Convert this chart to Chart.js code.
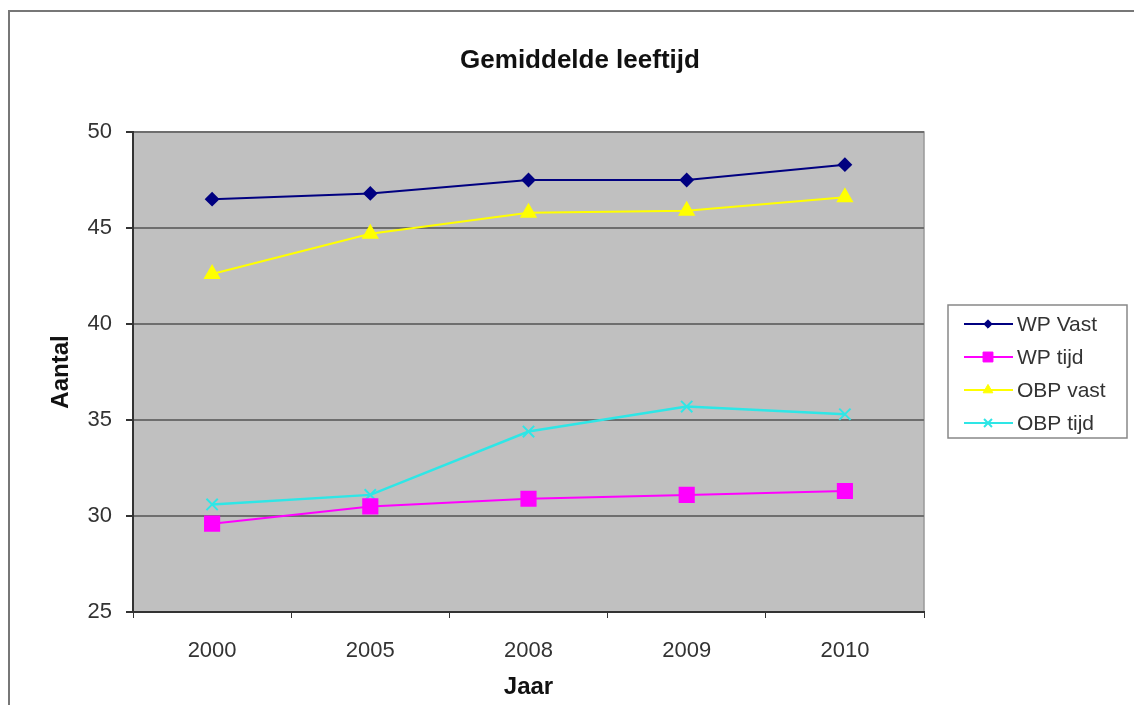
<!DOCTYPE html>
<html>
<head>
<meta charset="utf-8">
<script src="https://cdn.jsdelivr.net/npm/chart.js@4.4.0/dist/chart.umd.min.js"></script>
<style>
  html, body { margin: 0; padding: 0; background: #fff; overflow: hidden; }
  canvas { display: block; }
</style>
</head>
<body>
<canvas id="leeftijdChart" width="1134" height="705"></canvas>
<script>
const chartTitle = 'Gemiddelde leeftijd';
const years = ['2000', '2005', '2008', '2009', '2010'];
const wpVast = [46.5, 46.8, 47.5, 47.5, 48.3];
const wpTijd = [29.6, 30.5, 30.9, 31.1, 31.3];
const obpVast = [42.6, 44.7, 45.8, 45.9, 46.6];
const obpTijd = [30.6, 31.1, 34.4, 35.7, 35.3];
const yTicks = [25, 30, 35, 40, 45, 50];

const FONT = '"Liberation Sans", Arial, sans-serif';
Chart.defaults.font.family = FONT;
Chart.defaults.color = '#333';

// grey plot area, outer frame, title and a boxed legend like the old Excel chart
const excelLook = {
    id: 'excelLook',
    beforeDraw(chart) {
        const c = chart.ctx;
        const a = chart.chartArea;
        c.save();
        c.fillStyle = '#fff';
        c.fillRect(0, 0, chart.width, chart.height);
        c.strokeStyle = '#777';
        c.lineWidth = 2;
        c.beginPath();
        c.moveTo(9, chart.height);
        c.lineTo(9, 11);
        c.lineTo(chart.width, 11);
        c.stroke();
        c.fillStyle = '#c0c0c0';
        c.fillRect(a.left, a.top, a.right - a.left, a.bottom - a.top);
        c.strokeStyle = '#999';
        c.lineWidth = 1.5;
        c.beginPath();
        c.moveTo(a.left, a.top);
        c.lineTo(a.right, a.top);
        c.lineTo(a.right, a.bottom);
        c.stroke();
        c.fillStyle = '#111';
        c.font = 'bold 26px ' + FONT;
        c.textAlign = 'center';
        c.textBaseline = 'middle';
        c.fillText(chartTitle, 580, 61);
        c.restore();
    },
    afterDraw(chart) {
        const c = chart.ctx;
        const bx = 948, by = 305, bw = 179, bh = 133;
        c.save();
        c.fillStyle = '#fff';
        c.fillRect(bx, by, bw, bh);
        c.strokeStyle = '#888';
        c.lineWidth = 1.5;
        c.strokeRect(bx, by, bw, bh);
        c.font = '21px ' + FONT;
        c.textBaseline = 'middle';
        chart.data.datasets.forEach((ds, i) => {
            const y = by + 19 + i * 33;
            c.strokeStyle = ds.borderColor;
            c.lineWidth = 2;
            c.beginPath();
            c.moveTo(964, y);
            c.lineTo(1013, y);
            c.stroke();
            c.fillStyle = ds.pointBackgroundColor;
            c.lineWidth = ds.pointBorderWidth || 1;
            Chart.helpers.drawPoint(c, {
                pointStyle: ds.pointStyle,
                radius: ds.pointRadius * 0.7,
                borderWidth: ds.pointBorderWidth || 1
            }, 988, y);
            c.fillStyle = '#333';
            c.fillText(ds.label, 1017, y + 1);
        });
        c.restore();
    }
};

const ctx = document.getElementById('leeftijdChart');

new Chart(ctx, {
    type: 'line',
    data: {
        labels: years,
        datasets: [{
            label: 'WP Vast',
            data: wpVast,
            borderColor: '#000080',
            backgroundColor: '#000080',
            pointBackgroundColor: '#000080',
            pointStyle: 'rectRot',
            pointRadius: 6,
            borderWidth: 2
        }, {
            label: 'WP tijd',
            data: wpTijd,
            borderColor: '#ff00ff',
            backgroundColor: '#ff00ff',
            pointBackgroundColor: '#ff00ff',
            pointStyle: 'rect',
            pointRadius: 10,
            borderWidth: 2
        }, {
            label: 'OBP vast',
            data: obpVast,
            borderColor: '#ffff00',
            backgroundColor: '#ffff00',
            pointBackgroundColor: '#ffff00',
            pointStyle: 'triangle',
            pointRadius: 8,
            borderWidth: 2
        }, {
            label: 'OBP tijd',
            data: obpTijd,
            borderColor: '#2ee6e6',
            backgroundColor: '#2ee6e6',
            pointBackgroundColor: '#2ee6e6',
            pointStyle: 'crossRot',
            pointRadius: 8,
            pointBorderWidth: 2,
            borderWidth: 2.5
        }]
    },
    options: {
        responsive: false,
        animation: false,
        devicePixelRatio: 1,
        layout: {
            padding: { left: 20, right: 210, top: 132, bottom: 0 }
        },
        scales: {
            x: {
                offset: true,
                afterFit(axis) { axis.height = 93; },
                border: { color: '#333', width: 2 },
                grid: {
                    offset: true,
                    drawOnChartArea: false,
                    drawTicks: true,
                    tickLength: 6,
                    color: '#333'
                },
                ticks: { padding: 20, font: { size: 22 }, color: '#333' },
                title: {
                    display: true,
                    text: 'Jaar',
                    font: { size: 24, weight: 'bold' },
                    color: '#111',
                    padding: { top: 9, bottom: 3 }
                }
            },
            y: {
                min: 25,
                max: 50,
                afterFit(axis) { axis.width = 113; },
                afterBuildTicks(axis) {
                    axis.ticks = yTicks.map(v => ({ value: v }));
                },
                border: { color: '#333', width: 2 },
                grid: {
                    color: '#6e6e6e',
                    lineWidth: 2,
                    tickLength: 7,
                    tickColor: '#333'
                },
                ticks: { padding: 14, font: { size: 22 }, color: '#333' },
                title: {
                    display: true,
                    text: 'Aantal',
                    font: { size: 24, weight: 'bold' },
                    color: '#111',
                    padding: { top: 27, bottom: 12 }
                }
            }
        },
        plugins: {
            legend: { display: false },
            tooltip: { enabled: false },
            title: { display: false }
        }
    },
    plugins: [excelLook]
});
</script>
</body>
</html>
